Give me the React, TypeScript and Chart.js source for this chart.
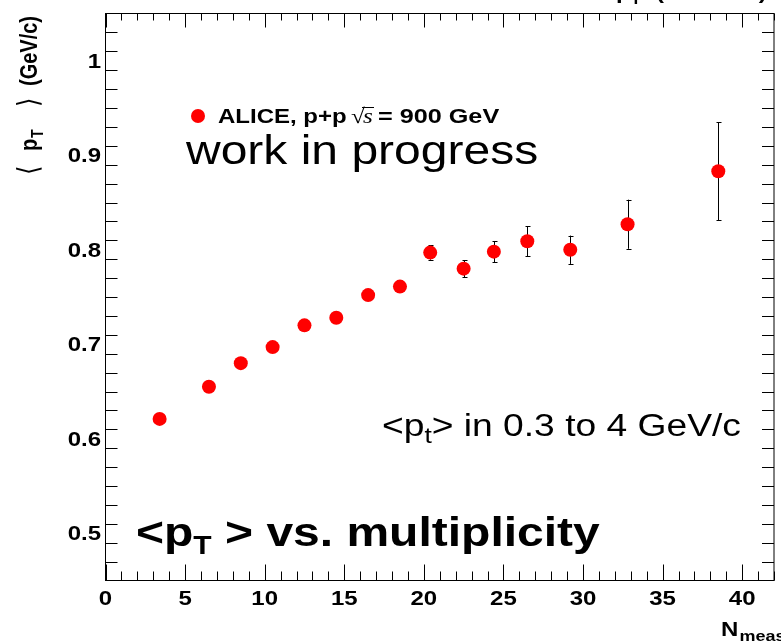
import React, { useEffect, useRef } from "react";
import { Chart, registerables } from "chart.js";

Chart.register(...registerables);

// ---- data ----
const nMeas = [3.4, 6.5, 8.5, 10.5, 12.5, 14.5, 16.5, 18.5, 20.4, 22.5, 24.4, 26.5, 29.2, 32.8, 38.5];
const meanPt = [0.621, 0.655, 0.680, 0.697, 0.720, 0.728, 0.752, 0.761, 0.797, 0.780, 0.798, 0.809, 0.800, 0.827, 0.883];
const meanPtErr = [0.003, 0.003, 0.003, 0.003, 0.003, 0.003, 0.004, 0.004, 0.0075, 0.009, 0.011, 0.016, 0.015, 0.026, 0.052];

const xMajorTicks = [0, 5, 10, 15, 20, 25, 30, 35, 40];
const xTickLabels = ["0", "5", "10", "15", "20", "25", "30", "35", "40"];
const yMajorTicks = [0.5, 0.6, 0.7, 0.8, 0.9, 1.0];
const yTickLabels = ["0.5", "0.6", "0.7", "0.8", "0.9", "1"];

const X_MIN = 0;
const X_MAX = 42;
const Y_MIN = 0.45;
const Y_MAX = 1.05;
const X_MINOR_STEP = 1;
const Y_MINOR_STEP = 0.02;

// ---- styling ----
const SX = 1.2; // horizontal text stretch of the reference
const SANS = '"Liberation Sans", Arial, Helvetica, "DejaVu Sans", sans-serif';
const SERIF = '"Liberation Serif", "Times New Roman", serif';
const bold = (px: number) => `bold ${px}px ${SANS}`;
const normal = (px: number) => `${px}px ${SANS}`;

type Seg = { t: string; font: string; dy?: number; dx?: number };

function drawRich(ctx: CanvasRenderingContext2D, segs: Seg[], x: number, y: number, align: "left" | "center" | "right" = "left") {
  ctx.save();
  ctx.translate(x, y);
  ctx.scale(SX, 1);
  ctx.textBaseline = "alphabetic";
  ctx.textAlign = "left";
  let total = 0;
  for (const s of segs) {
    ctx.font = s.font;
    total += (s.dx || 0) + ctx.measureText(s.t).width;
  }
  let cx = align === "left" ? 0 : align === "center" ? -total / 2 : -total;
  for (const s of segs) {
    ctx.font = s.font;
    cx += s.dx || 0;
    ctx.fillText(s.t, cx, s.dy || 0);
    cx += ctx.measureText(s.t).width;
  }
  ctx.restore();
}

const rootPlugin = {
  id: "rootStyle",
  beforeDatasetsDraw(chart: any) {
    const ctx: CanvasRenderingContext2D = chart.ctx;
    const { left, right, top, bottom } = chart.chartArea;
    const xs = chart.scales.x;
    const ys = chart.scales.y;
    ctx.save();
    ctx.strokeStyle = "#000";
    ctx.lineWidth = 1;
    ctx.strokeRect(left, top, right - left, bottom - top);
    ctx.beginPath();
    // x ticks (bottom and top, pointing inwards)
    const nx = Math.round((X_MAX - X_MIN) / X_MINOR_STEP);
    for (let k = 0; k <= nx; k++) {
      const v = X_MIN + k * X_MINOR_STEP;
      const major = xMajorTicks.some((m) => Math.abs(m - v) < 1e-6);
      const px = Math.round(xs.getPixelForValue(v)) + 0.5;
      ctx.moveTo(px, bottom);
      ctx.lineTo(px, bottom - (major ? 16 : 9));
      ctx.moveTo(px, top);
      ctx.lineTo(px, top + (major ? 14 : 7));
    }
    // y ticks (left and right)
    const ny = Math.round((Y_MAX - Y_MIN) / Y_MINOR_STEP);
    for (let k = 0; k <= ny; k++) {
      const v = Y_MIN + k * Y_MINOR_STEP;
      const vr = Math.round(v * 100) / 100;
      if (Math.abs(vr - v) > 1e-6 || vr <= Y_MIN || vr >= Y_MAX) continue;
      const major = yMajorTicks.some((m) => Math.abs(m - vr) < 1e-6);
      const py = Math.round(ys.getPixelForValue(vr)) + 0.5;
      ctx.moveTo(left, py);
      ctx.lineTo(left + (major ? 22 : 12), py);
      ctx.moveTo(right, py);
      ctx.lineTo(right - (major ? 22 : 12), py);
    }
    ctx.stroke();

    // error bars (behind the markers)
    ctx.beginPath();
    nMeas.forEach((n, i) => {
      const px = Math.round(xs.getPixelForValue(n)) + 0.5;
      const y1 = ys.getPixelForValue(meanPt[i] + meanPtErr[i]);
      const y2 = ys.getPixelForValue(meanPt[i] - meanPtErr[i]);
      ctx.moveTo(px, y1);
      ctx.lineTo(px, y2);
      ctx.moveTo(px - 2, Math.round(y1) + 0.5);
      ctx.lineTo(px + 3, Math.round(y1) + 0.5);
      ctx.moveTo(px - 2, Math.round(y2) + 0.5);
      ctx.lineTo(px + 3, Math.round(y2) + 0.5);
    });
    ctx.stroke();
    ctx.restore();
  },
  afterDatasetsDraw(chart: any) {
    const ctx: CanvasRenderingContext2D = chart.ctx;
    const { bottom } = chart.chartArea;
    const xs = chart.scales.x;
    const ys = chart.scales.y;
    ctx.save();
    ctx.fillStyle = "#000";
    // tick labels
    xMajorTicks.forEach((v, i) => {
      drawRich(ctx, [{ t: xTickLabels[i], font: bold(20) }], xs.getPixelForValue(v), bottom + 24, "center");
    });
    yMajorTicks.forEach((v, i) => {
      drawRich(ctx, [{ t: yTickLabels[i], font: bold(20) }], 101, ys.getPixelForValue(v) + 7, "right");
    });

    // x axis title
    drawRich(ctx, [
      { t: "N", font: bold(20) },
      { t: "meas", font: bold(15), dy: 5, dx: 1 },
    ], 721, 636);

    // y axis title (rotated)
    ctx.save();
    ctx.translate(37, 0);
    ctx.scale(SX, 1);
    ctx.rotate(-Math.PI / 2);
    ctx.textBaseline = "alphabetic";
    ctx.textAlign = "left";
    ctx.font = `24px "DejaVu Sans", ${SANS}`;
    ctx.fillText("\u27E8", -175, 1);
    ctx.font = bold(20);
    ctx.fillText("p", -151, 0);
    ctx.font = bold(14);
    ctx.fillText("T", -138, 5);
    ctx.font = `24px "DejaVu Sans", ${SANS}`;
    ctx.fillText("\u27E9", -107, 1);
    ctx.font = bold(20);
    ctx.fillText("(GeV/c)", -86, 0);
    ctx.restore();

    // cut-off title at the top
    drawRich(ctx, [
      { t: "p", font: bold(20) },
      { t: "T", font: bold(14), dy: 5 },
      { t: " (900 GeV)", font: bold(20), dx: 7 },
    ], 616, -1);

    // legend entry
    ctx.fillStyle = "#ff0000";
    ctx.beginPath();
    ctx.arc(198, 116, 7, 0, Math.PI * 2);
    ctx.fill();
    ctx.fillStyle = "#000";
    drawRich(ctx, [{ t: "ALICE, p+p", font: bold(20) }], 218, 123);
    // sqrt(s)
    drawRich(ctx, [{ t: "\u221A", font: `21px ${SERIF}` }], 351, 123);
    drawRich(ctx, [{ t: "s", font: `italic 21px ${SERIF}` }], 363, 123);
    ctx.beginPath();
    ctx.moveTo(362, 107.5);
    ctx.lineTo(374, 107.5);
    ctx.strokeStyle = "#000";
    ctx.stroke();
    drawRich(ctx, [{ t: "= 900 GeV", font: bold(21) }], 378, 123);

    // annotations
    drawRich(ctx, [{ t: "work in progress", font: normal(40) }], 186, 164);
    drawRich(ctx, [
      { t: "<p", font: normal(31) },
      { t: "t", font: normal(22), dy: 7 },
      { t: "> in 0.3 to 4 GeV/c", font: normal(31) },
    ], 382, 436);
    drawRich(ctx, [
      { t: "<p", font: bold(40) },
      { t: "T", font: bold(25), dy: 8 },
      { t: " > vs. multiplicity", font: bold(40) },
    ], 136, 546);
    ctx.restore();
  },
};

export default function App() {
  const ref = useRef<HTMLCanvasElement>(null);
  useEffect(() => {
    const canvas = ref.current!;
    const chart = new Chart(canvas, {
      type: "scatter",
      data: {
        datasets: [
          {
            data: nMeas.map((x, i) => ({ x, y: meanPt[i] })),
            backgroundColor: "#ff0000",
            borderColor: "#ff0000",
            borderWidth: 0,
            pointRadius: 7,
            pointHoverRadius: 7,
          },
        ],
      },
      options: {
        animation: false,
        responsive: false,
        devicePixelRatio: 1,
        events: [],
        layout: { padding: { top: 13.5, right: 5.5, left: 0, bottom: 0 } },
        plugins: { legend: { display: false }, tooltip: { enabled: false } },
        scales: {
          x: {
            type: "linear",
            min: X_MIN,
            max: X_MAX,
            ticks: { display: false },
            grid: { display: false },
            border: { display: false },
            afterFit: (s: any) => {
              s.height = 61.5;
            },
          },
          y: {
            type: "linear",
            min: Y_MIN,
            max: Y_MAX,
            ticks: { display: false },
            grid: { display: false },
            border: { display: false },
            afterFit: (s: any) => {
              s.width = 105.5;
            },
          },
        },
      } as any,
      plugins: [rootPlugin],
    });
    return () => chart.destroy();
  }, []);
  return (
    <div style={{ position: "fixed", left: 0, top: 0, width: 781, height: 642, background: "#fff" }}>
      <canvas ref={ref} width={781} height={642} style={{ display: "block", width: 781, height: 642 }} />
    </div>
  );
}
